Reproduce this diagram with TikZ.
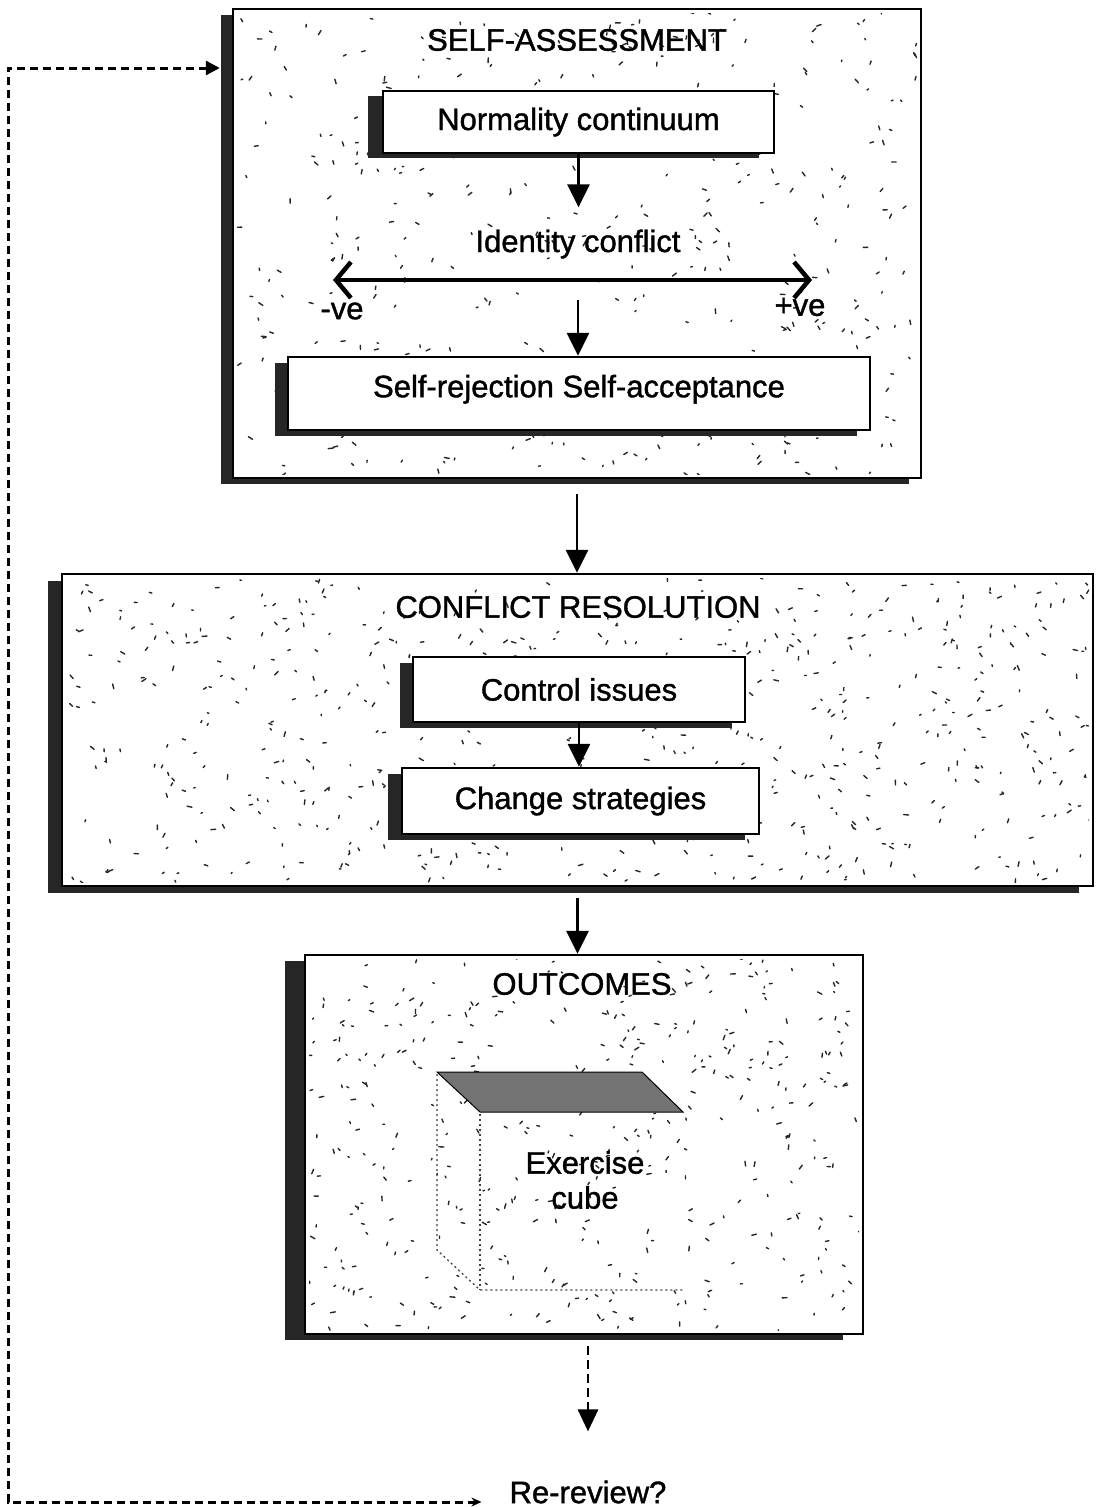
\documentclass[tikz,border=0pt]{standalone}
\usepackage{fontspec}
\setmainfont{Liberation Sans}[FakeBold=1.2]
\usetikzlibrary{arrows.meta,shadows,calc}

% scatter short strokes over a rectangle: x0, y0, width, height, count
\newcommand\sandfill[5]{%
  \foreach \k in {1,...,#5}{%
    \pgfmathsetmacro\sx{#1+#3*rnd}%
    \pgfmathsetmacro\sy{#2+#4*rnd}%
    \pgfmathsetmacro\sa{360*rnd}%
    \pgfmathsetmacro\sl{1.5+3.5*rnd}%
    \draw[speck] (\sx,\sy) -- ++(\sa:\sl);%
  }}

\begin{document}
\begin{tikzpicture}[x=1pt,y=-1pt,
  txt/.style={font=\fontsize{31}{35}\selectfont, inner sep=2pt},
  sh/.style 2 args={drop shadow={opacity=1, fill=black!85,
      shadow xshift=#1, shadow yshift=#2}},
  panel/.style={draw, line width=2.4pt, fill=white},
  ibox/.style={draw, line width=2.4pt, fill=white, txt, inner sep=0pt},
  speck/.style={line width=1.4pt, black!85, line cap=round},
  arr/.style={line width=2.8pt, -{Triangle[length=23pt,width=22pt]}},
  darr/.style={line width=4.5pt,
      {Straight Barb[length=15pt,width=36pt]}-{Straight Barb[length=15pt,width=36pt]}},
  dasharr/.style={line width=2.8pt, dash pattern=on 9pt off 5pt,
      -{Triangle[length=22pt,width=20pt]}},
  loopline/.style={line width=3pt, dash pattern=on 8pt off 5pt,
      {Triangle[length=14pt,width=14pt]}-{Stealth[length=10pt,width=9pt]}},
  cubeedge/.style={line width=1.3pt, black!75, dash pattern=on 2pt off 3pt},
]
\useasboundingbox (0,0) rectangle (1100,1507);
\pgfmathsetseed{17}

% ---------- self-assessment panel ----------
\node[panel, sh={-12pt}{-6pt}, minimum width=688pt, minimum height=469pt]
  (sa) at (577,243.5) {};
\begin{scope}
  \clip (237,13) rectangle (917,474);
  \sandfill{237}{13}{680}{461}{420}
\end{scope}
\node[txt] (saT) at (577,40) {SELF-ASSESSMENT};
\node[ibox, sh={-15pt}{-5pt}, minimum width=391pt, minimum height=62pt]
  (norm) at (578.5,122) {Normality continuum};
\node[txt] (ident) at (578,244) {Identity conflict};
\coordinate (nl) at (333,280);
\coordinate (pr) at (812,280);
\draw[darr] (nl) -- (pr);
\node[txt] (neg) at (342,311) {-ve};
\node[txt] (pos) at (800,307) {+ve};
\node[ibox, sh={-13pt}{-6pt}, minimum width=582pt, minimum height=73pt,
  text depth=15pt] (srej) at (579,393.5) {Self-rejection Self-acceptance};
\coordinate (mid) at (578,300);
\draw[arr, shorten >=20pt] (norm.south) -- (norm.south |- ident.north);
\draw[arr] (mid) -- (mid |- srej.north);

% ---------- conflict resolution panel ----------
\node[panel, sh={-14pt}{-7pt}, minimum width=1031pt, minimum height=312pt]
  (cr) at (577.5,730) {};
\begin{scope}
  \clip (66,578) rectangle (1089,882);
  \sandfill{66}{578}{1023}{304}{620}
\end{scope}
\node[txt] (crT) at (578,607) {CONFLICT RESOLUTION};
\node[ibox, sh={-13pt}{-6pt}, minimum width=332pt, minimum height=65pt]
  (ctrl) at (579,689.5) {Control issues};
\node[ibox, sh={-14pt}{-6pt}, minimum width=357pt, minimum height=66pt]
  (chg) at (580.5,801) {Change strategies};
\draw[arr] (ctrl.south) -- (ctrl.south |- chg.north);

% ---------- outcomes panel ----------
\node[panel, sh={-20pt}{-6pt}, minimum width=558pt, minimum height=379pt]
  (out) at (584,1144.5) {};
\begin{scope}
  \clip (309,959) rectangle (859,1330);
  \sandfill{309}{959}{550}{371}{420}
\end{scope}
\node[txt] (outT) at (582,984) {OUTCOMES};
% exercise cube: shaded top face, faint dotted edges
\filldraw[fill=black!55, draw=black, line width=1pt]
  (437,1072) -- (642,1072) -- (683,1112) -- (480,1112) -- cycle;
\draw[cubeedge] (437,1074) -- (437,1250) -- (480,1290) -- (683,1290);
\draw[cubeedge] (480,1114) -- (480,1290);
\node[txt, align=center] (cube) at (585,1180) {Exercise\\cube};

% ---------- flow between panels ----------
\draw[arr, shorten <=15pt] (sa.south) -- (sa.south |- cr.north);
\draw[arr, shorten <=11pt] (cr.south) -- (cr.south |- out.north);

% ---------- review loop ----------
\node[txt] (rev) at (588,1492) {Re-review?};
\draw[dasharr, shorten <=11pt, shorten >=47pt] (rev.north |- out.south) -- (rev.north);
\coordinate (lt) at (8,68);
\coordinate (lb) at (8,1502);
\coordinate (ent) at ([xshift=-12pt]sa.west |- lt);
\draw[loopline, shorten >=26pt] (ent) -- (lt) -- (lb) -- (rev.west |- lb);
\end{tikzpicture}
\end{document}
